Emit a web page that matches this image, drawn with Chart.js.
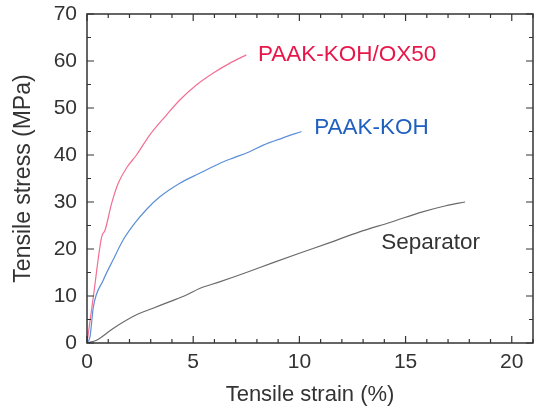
<!DOCTYPE html>
<html>
<head>
<meta charset="utf-8">
<script src="https://cdn.jsdelivr.net/npm/chart.js@4"></script>
<style>
  html, body { margin: 0; padding: 0; background: #fff; }
  #wrap { width: 538px; height: 412px; }
</style>
</head>
<body>
<div id="wrap"><canvas id="stressChart" width="538" height="412"></canvas></div>
<script>
// ---- data ----
const xOX50 = [0, 0.3, 0.69, 0.85, 1.16, 1.47, 1.9, 2.33, 2.96, 3.74, 4.37, 5.15, 5.93, 6.71, 7.5];
const yOX50 = [0, 9.9, 22.6, 24, 29.7, 34, 37.5, 40, 44.3, 48.5, 51.7, 54.9, 57.4, 59.5, 61.3];

const xKOH = [0, 0.14, 0.3, 0.77, 1.23, 1.7, 2.25, 2.8, 3.43, 4.37, 5.3, 6.24, 6.9, 7.6, 8.3, 9.2, 10.1];
const yKOH = [0, 1.3, 7.7, 13.4, 17.7, 21.9, 25.5, 28.4, 31.1, 34, 36.1, 38.2, 39.4, 40.6, 42.1, 43.6, 45];

const xSep = [0, 0.45, 1.23, 2.33, 3.11, 3.9, 4.68, 5.3, 6.24, 7.5, 8.7, 10.0, 11.4, 12.8, 14.3, 15.8, 16.9, 17.8];
const ySep = [0, 0.6, 3.1, 6, 7.4, 8.8, 10.2, 11.6, 13, 15, 17, 19.1, 21.3, 23.6, 25.7, 27.9, 29.2, 30];

const seriesNames = ["PAAK-KOH/OX50", "PAAK-KOH", "Separator"];
// where the curve labels sit (data units)
const labelX = [8.05, 10.7, 13.85];
const labelY = [61.3, 45.7, 21.3];

const xTicks = [0, 5, 10, 15, 20];
const yTicks = [0, 10, 20, 30, 40, 50, 60, 70];

const zip = (xs, ys) => xs.map((x, i) => ({ x: x, y: ys[i] }));

const axisColor = "#333333";
const font = "'Liberation Sans', Arial, sans-serif";

// frame + inward ticks on all four sides, plus curve labels
const framePlugin = {
  id: "frame",
  afterDraw(chart) {
    const { ctx, chartArea: a, scales } = chart;
    const sx = scales.x, sy = scales.y;
    ctx.save();
    ctx.strokeStyle = axisColor;
    ctx.lineWidth = 1.5;
    ctx.strokeRect(a.left, a.top, a.right - a.left, a.bottom - a.top);

    ctx.lineWidth = 1.2;
    ctx.beginPath();
    for (let v = 0; v <= 21; v++) {
      const px = sx.getPixelForValue(v);
      const len = v % 5 === 0 ? 7 : 4;
      ctx.moveTo(px, a.bottom); ctx.lineTo(px, a.bottom - len);
      ctx.moveTo(px, a.top); ctx.lineTo(px, a.top + len);
    }
    for (let v = 0; v <= 70; v += 5) {
      const py = sy.getPixelForValue(v);
      const len = v % 10 === 0 ? 7 : 4;
      ctx.moveTo(a.left, py); ctx.lineTo(a.left + len, py);
      ctx.moveTo(a.right, py); ctx.lineTo(a.right - len, py);
    }
    ctx.stroke();

    // curve labels
    ctx.font = "22.5px " + font;
    ctx.textAlign = "left";
    ctx.textBaseline = "middle";
    chart.data.datasets.forEach((ds, i) => {
      ctx.fillStyle = ds.labelColor;
      ctx.fillText(seriesNames[i], sx.getPixelForValue(labelX[i]), sy.getPixelForValue(labelY[i]));
    });
    ctx.restore();
  }
};

new Chart(document.getElementById("stressChart"), {
  type: "scatter",
  data: {
    datasets: [
      {
        label: seriesNames[0],
        data: zip(xOX50, yOX50),
        borderColor: "#f36f93",
        labelColor: "#e8174a",
      },
      {
        label: seriesNames[1],
        data: zip(xKOH, yKOH),
        borderColor: "#5b8fd8",
        labelColor: "#1f5fbf",
      },
      {
        label: seriesNames[2],
        data: zip(xSep, ySep),
        borderColor: "#6a6a6a",
        labelColor: "#333333",
      },
    ],
  },
  options: {
    responsive: false,
    animation: false,
    showLine: true,
    elements: {
      point: { radius: 0 },
      line: { borderWidth: 1.2, cubicInterpolationMode: "monotone", fill: false },
    },
    layout: { padding: { top: 14, right: 5, left: 0, bottom: 0 } },
    plugins: {
      legend: { display: false },
      tooltip: { enabled: false },
    },
    scales: {
      x: {
        type: "linear",
        min: 0,
        max: 21,
        afterBuildTicks: (s) => { s.ticks = xTicks.map((v) => ({ value: v })); },
        afterFit: (s) => { s.height = 69; s.paddingLeft = 0; s.paddingRight = 0; },
        grid: { display: false, drawTicks: false },
        border: { display: false },
        ticks: { color: axisColor, padding: 7, font: { size: 21, family: font } },
        title: {
          display: true,
          text: "Tensile strain (%)",
          color: axisColor,
          font: { size: 22, family: font },
          padding: { top: 6, bottom: 4 },
        },
      },
      y: {
        type: "linear",
        min: 0,
        max: 70,
        afterBuildTicks: (s) => { s.ticks = yTicks.map((v) => ({ value: v })); },
        afterFit: (s) => { s.width = 87; s.paddingTop = 0; s.paddingBottom = 0; },
        grid: { display: false, drawTicks: false },
        border: { display: false },
        ticks: { color: axisColor, padding: 10, font: { size: 21, family: font } },
        title: {
          display: true,
          text: "Tensile stress (MPa)",
          color: axisColor,
          font: { size: 23, family: font },
          padding: { top: 10, bottom: 0 },
        },
      },
    },
  },
  plugins: [framePlugin],
});
</script>
</body>
</html>
